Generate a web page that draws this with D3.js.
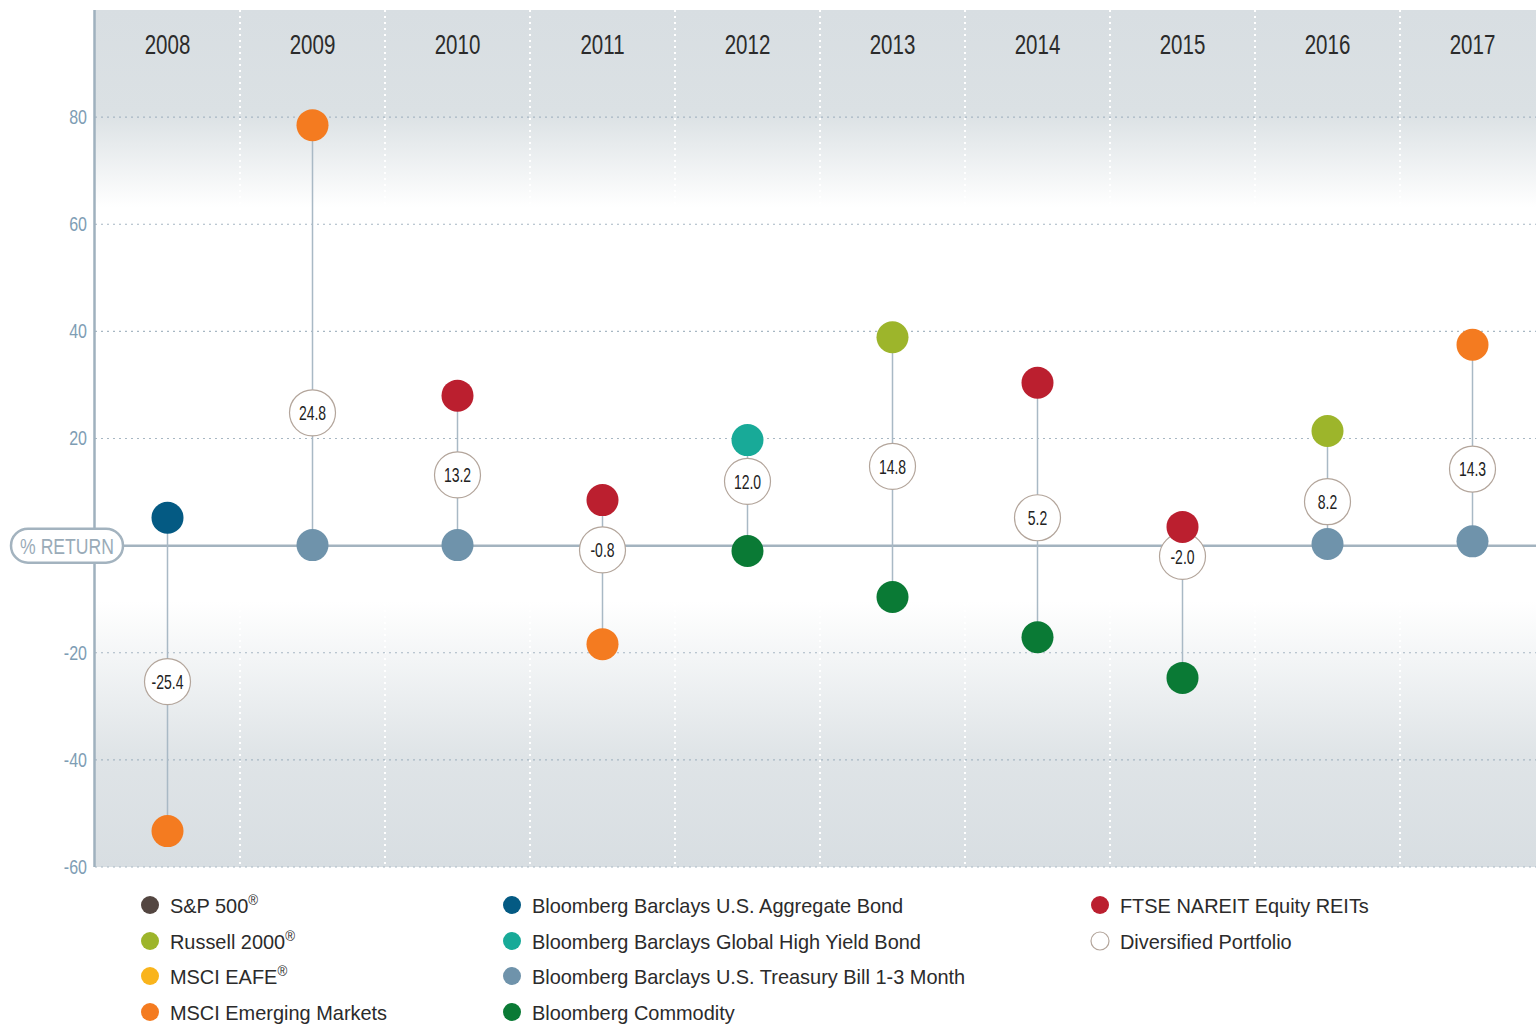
<!DOCTYPE html>
<html>
<head>
<meta charset="utf-8">
<script src="https://cdn.jsdelivr.net/npm/d3@7"></script>
<style>
  body { margin: 0; background: #fff; }
  text { font-family: "Liberation Sans", Arimo, sans-serif; }
</style>
</head>
<body>
<div id="chart"></div>
<script>
var width = 1536,
    height = 1024;

// data
var years = ["2008", "2009", "2010", "2011", "2012", "2013", "2014", "2015", "2016", "2017"];
var bestIndex = ["Agg", "EM", "REIT", "REIT", "HY", "R2000", "REIT", "REIT", "R2000", "EM"];
var bestValue = [5.2, 78.5, 28.0, 8.5, 19.7, 38.9, 30.4, 3.5, 21.4, 37.5];
var worstIndex = ["EM", "TBill", "TBill", "EM", "Comm", "Comm", "Comm", "Comm", "TBill", "TBill"];
var worstValue = [-53.3, 0.1, 0.1, -18.4, -1.0, -9.6, -17.1, -24.7, 0.3, 0.8];
var portfolio = [-25.4, 24.8, 13.2, -0.8, 12.0, 14.8, 5.2, -2.0, 8.2, 14.3];
var yTicks = [80, 60, 40, 20, -20, -40, -60];

var legendKeys = ["SP500", "R2000", "EAFE", "EM", "Agg", "HY", "TBill", "Comm", "REIT", "Port"];
var legendLabels = ["S&P 500", "Russell 2000", "MSCI EAFE", "MSCI Emerging Markets",
  "Bloomberg Barclays U.S. Aggregate Bond", "Bloomberg Barclays Global High Yield Bond",
  "Bloomberg Barclays U.S. Treasury Bill 1-3 Month", "Bloomberg Commodity",
  "FTSE NAREIT Equity REITs", "Diversified Portfolio"];
var legendReg = [true, true, true, false, false, false, false, false, false, false];
var legendColors = ["#534641", "#9db52b", "#f9b41c", "#f47b20", "#045a83", "#18aa98",
  "#6f93ab", "#0a7a35", "#bb1f2f", "#ffffff"];

var color = d3.scaleOrdinal().domain(legendKeys).range(legendColors);

var x = d3.scaleBand().domain(years).range([95, 1545]);
var y = d3.scaleLinear().domain([-60, 100]).range([867, 10]);
var cx = function(yr) { return x(yr) + x.bandwidth() / 2; };

// hyphen instead of unicode minus, like the original
var fmt1 = function(v) { return d3.format(".1f")(v).replace("\u2212", "-"); };
var fmt0 = function(v) { return String(v); };

var svg = d3.select("#chart").append("svg")
    .attr("width", width)
    .attr("height", height);

// background gradient
var grad = svg.append("defs").append("linearGradient")
    .attr("id", "bg-grad")
    .attr("x1", 0).attr("y1", 0).attr("x2", 0).attr("y2", 1);
[[0, "#d8dee2"], [0.12, "#dbe1e4"], [0.23, "#ffffff"], [0.69, "#ffffff"], [0.87, "#dfe4e7"], [1, "#d8dee2"]]
  .forEach(function(s) {
    grad.append("stop").attr("offset", s[0]).attr("stop-color", s[1]);
  });

svg.append("rect")
    .attr("x", 95).attr("y", y(100))
    .attr("width", width - 95).attr("height", y(-60) - y(100))
    .attr("fill", "url(#bg-grad)");

// white dotted column separators
svg.selectAll(".sep")
  .data(years.slice(1))
  .enter().append("line")
    .attr("x1", function(d) { return x(d); })
    .attr("x2", function(d) { return x(d); })
    .attr("y1", y(100)).attr("y2", y(-60))
    .attr("stroke", "#ffffff")
    .attr("stroke-width", 2)
    .attr("stroke-dasharray", "2 4");

// dotted gridlines
svg.selectAll(".grid")
  .data(yTicks)
  .enter().append("line")
    .attr("x1", 95).attr("x2", width)
    .attr("y1", function(d) { return y(d); })
    .attr("y2", function(d) { return y(d); })
    .attr("stroke", "#a7b7c3")
    .attr("stroke-width", 1.2)
    .attr("stroke-dasharray", "2 4");

// y axis labels (condensed look via scaleX)
var yAxis = svg.append("g")
    .attr("transform", "translate(87,0)")
    .call(d3.axisLeft(y).tickValues(yTicks).tickFormat(fmt0).tickSize(0).tickPadding(0));
yAxis.select(".domain").remove();
yAxis.selectAll("text")
    .attr("fill", "#7e9db4")
    .attr("font-size", 20)
    .attr("font-family", null)
    .attr("transform", "scale(0.8,1)");

// left axis line
svg.append("line")
    .attr("x1", 94.5).attr("x2", 94.5)
    .attr("y1", y(100)).attr("y2", y(-60))
    .attr("stroke", "#9fb1be")
    .attr("stroke-width", 2.5);

// zero line
svg.append("line")
    .attr("x1", 95).attr("x2", width)
    .attr("y1", y(0)).attr("y2", y(0))
    .attr("stroke", "#a3b3bf")
    .attr("stroke-width", 2.5);

// year labels
svg.selectAll(".year")
  .data(years)
  .enter().append("g")
    .attr("transform", function(d) { return "translate(" + cx(d) + ",54)"; })
  .append("text")
    .attr("transform", "scale(0.76,1)")
    .attr("text-anchor", "middle")
    .attr("font-size", 27)
    .attr("fill", "#2b2b2b")
    .text(function(d) { return d; });

// range stems
var rows = years.map(function(yr, i) {
  return { year: yr, best: bestValue[i], bestKey: bestIndex[i],
           worst: worstValue[i], worstKey: worstIndex[i], port: portfolio[i] };
});

svg.selectAll(".stem")
  .data(rows)
  .enter().append("line")
    .attr("x1", function(d) { return cx(d.year); })
    .attr("x2", function(d) { return cx(d.year); })
    .attr("y1", function(d) { return y(d.best); })
    .attr("y2", function(d) { return y(d.worst); })
    .attr("stroke", "#a9b9c5")
    .attr("stroke-width", 1.5);

// portfolio bubbles
var port = svg.selectAll(".port")
  .data(rows)
  .enter().append("g")
    .attr("transform", function(d) { return "translate(" + cx(d.year) + "," + y(d.port) + ")"; });

port.append("circle")
    .attr("r", 23)
    .attr("fill", "#fff")
    .attr("stroke", "#b3a59b")
    .attr("stroke-width", 1.2);

port.append("text")
    .attr("transform", "scale(0.7,1)")
    .attr("text-anchor", "middle")
    .attr("dy", "0.36em")
    .attr("font-size", 20)
    .attr("fill", "#222")
    .text(function(d) { return fmt1(d.port); });

// best and worst dots, on top of the bubbles
svg.selectAll(".best")
  .data(rows)
  .enter().append("circle")
    .attr("cx", function(d) { return cx(d.year); })
    .attr("cy", function(d) { return y(d.best); })
    .attr("r", 16)
    .attr("fill", function(d) { return color(d.bestKey); });

svg.selectAll(".worst")
  .data(rows)
  .enter().append("circle")
    .attr("cx", function(d) { return cx(d.year); })
    .attr("cy", function(d) { return y(d.worst); })
    .attr("r", 16)
    .attr("fill", function(d) { return color(d.worstKey); });

// % RETURN pill
var pill = svg.append("g").attr("transform", "translate(11," + (y(0) - 17) + ")");
pill.append("rect")
    .attr("width", 112).attr("height", 34)
    .attr("rx", 17)
    .attr("fill", "#fff")
    .attr("stroke", "#a3b3bf")
    .attr("stroke-width", 2.5);
pill.append("g")
    .attr("transform", "translate(56,17)")
  .append("text")
    .attr("transform", "scale(0.8,1)")
    .attr("dy", "0.36em")
    .attr("text-anchor", "middle")
    .attr("font-size", 22)
    .attr("fill", "#9aabb8")
    .text("% RETURN");

// legend
var legendX = [150, 512, 1100];
var legendY = [905, 941, 976, 1012];
var legendPos = [[0, 0], [0, 1], [0, 2], [0, 3], [1, 0], [1, 1], [1, 2], [1, 3], [2, 0], [2, 1]];

var legend = svg.append("g")
  .selectAll("g")
  .data(legendKeys)
  .enter().append("g")
    .attr("transform", function(d, i) {
      return "translate(" + legendX[legendPos[i][0]] + "," + legendY[legendPos[i][1]] + ")";
    });

legend.append("circle")
    .attr("r", 9)
    .attr("fill", function(d) { return color(d); })
    .attr("stroke", function(d) { return d === "Port" ? "#b3a59b" : "none"; })
    .attr("stroke-width", 1.2);

var lt = legend.append("text")
    .attr("x", 21)
    .attr("dy", "0.36em")
    .attr("font-size", 21)
    .attr("fill", "#2b2b2b")
    .attr("transform", "scale(0.95,1)")
    .text(function(d, i) { return legendLabels[i]; });

lt.filter(function(d, i) { return legendReg[i]; })
  .append("tspan")
    .attr("font-size", 14)
    .attr("dy", "-0.55em")
    .text("®");
</script>
</body>
</html>
